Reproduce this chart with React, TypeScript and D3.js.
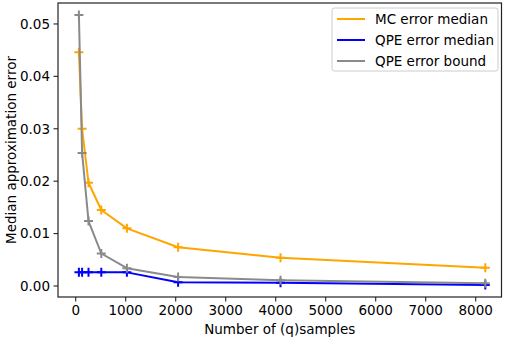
import React from "react";
import * as d3 from "d3";

const samples = [64, 128, 256, 512, 1024, 2048, 4096, 8192];
const mcMedian = [0.0446, 0.030, 0.0197, 0.0145, 0.0110, 0.0074, 0.0054, 0.0035];
const qpeMedian = [0.0026, 0.0026, 0.0026, 0.0026, 0.0026, 0.0007, 0.0006, 0.0002];
const qpeBound = [0.0517, 0.0254, 0.0124, 0.0062, 0.0034, 0.0017, 0.0011, 0.0005];
const seriesNames = ["MC error median", "QPE error median", "QPE error bound"];
const seriesColors = ["#ffa500", "#0000ff", "#8a8a8a"];
const xTicks = [0, 1000, 2000, 3000, 4000, 5000, 6000, 7000, 8000];
const yTicks = [0, 0.01, 0.02, 0.03, 0.04, 0.05];

const W = 506, H = 340;
const L = 58, R = 501.5, T = 3, B = 297;
const FONT = "DejaVu Sans";
const FS = 13.5;

export default function App() {
  const x = d3.scaleLinear().domain([-354, 8516]).range([L, R]);
  const y = d3.scaleLinear().domain([-0.0021, 0.0540]).range([B, T]);
  const line = d3.line<[number, number]>().x(d => x(d[0])).y(d => y(d[1]));
  const all = [mcMedian, qpeMedian, qpeBound];
  const ms = 4.5;
  return (
    <svg width={W} height={H} style={{ position: "absolute", left: 0, top: 0, background: "#fff" }} fontFamily={FONT}>
      {all.map((vals, i) => {
        const pts: [number, number][] = samples.map((s, j) => [s, vals[j]]);
        return (
          <g key={i}>
            <path d={line(pts) || ""} fill="none" stroke={seriesColors[i]} strokeWidth={2} strokeLinejoin="round" />
            {pts.map((p, j) => (
              <path key={j} d={`M${x(p[0]) - ms},${y(p[1])}H${x(p[0]) + ms}M${x(p[0])},${y(p[1]) - ms}V${y(p[1]) + ms}`} stroke={seriesColors[i]} strokeWidth={2} />
            ))}
          </g>
        );
      })}
      <rect x={L} y={T} width={R - L} height={B - T} fill="none" stroke="#222" strokeWidth={1.2} />
      {xTicks.map(t => (
        <g key={t}>
          <line x1={x(t)} x2={x(t)} y1={B} y2={B + 4.5} stroke="#222" strokeWidth={1.1} />
          <text x={x(t)} y={B + 18} textAnchor="middle" fontSize={FS} fill="#000">{t}</text>
        </g>
      ))}
      {yTicks.map(t => (
        <g key={t}>
          <line x1={L - 4.5} x2={L} y1={y(t)} y2={y(t)} stroke="#222" strokeWidth={1.1} />
          <text x={L - 8} y={y(t)} dy="0.36em" textAnchor="end" fontSize={FS} fill="#000">{t.toFixed(2)}</text>
        </g>
      ))}
      <text x={(L + R) / 2} y={334} textAnchor="middle" fontSize={FS} fill="#000">Number of (q)samples</text>
      <text transform={`translate(16,${(T + B) / 2}) rotate(-90)`} textAnchor="middle" fontSize={FS} fill="#000">Median approximation error</text>
      <g>
        <rect x={332} y={8} width={166} height={63} rx={2.5} fill="#fff" fillOpacity={0.8} stroke="#ccc" strokeWidth={1} />
        {seriesNames.map((n, i) => (
          <g key={n}>
            <line x1={337} x2={365} y1={19 + i * 21} y2={19 + i * 21} stroke={seriesColors[i]} strokeWidth={2} />
            <text x={375} y={19 + i * 21} dy="0.36em" fontSize={FS} fill="#000">{n}</text>
          </g>
        ))}
      </g>
    </svg>
  );
}
